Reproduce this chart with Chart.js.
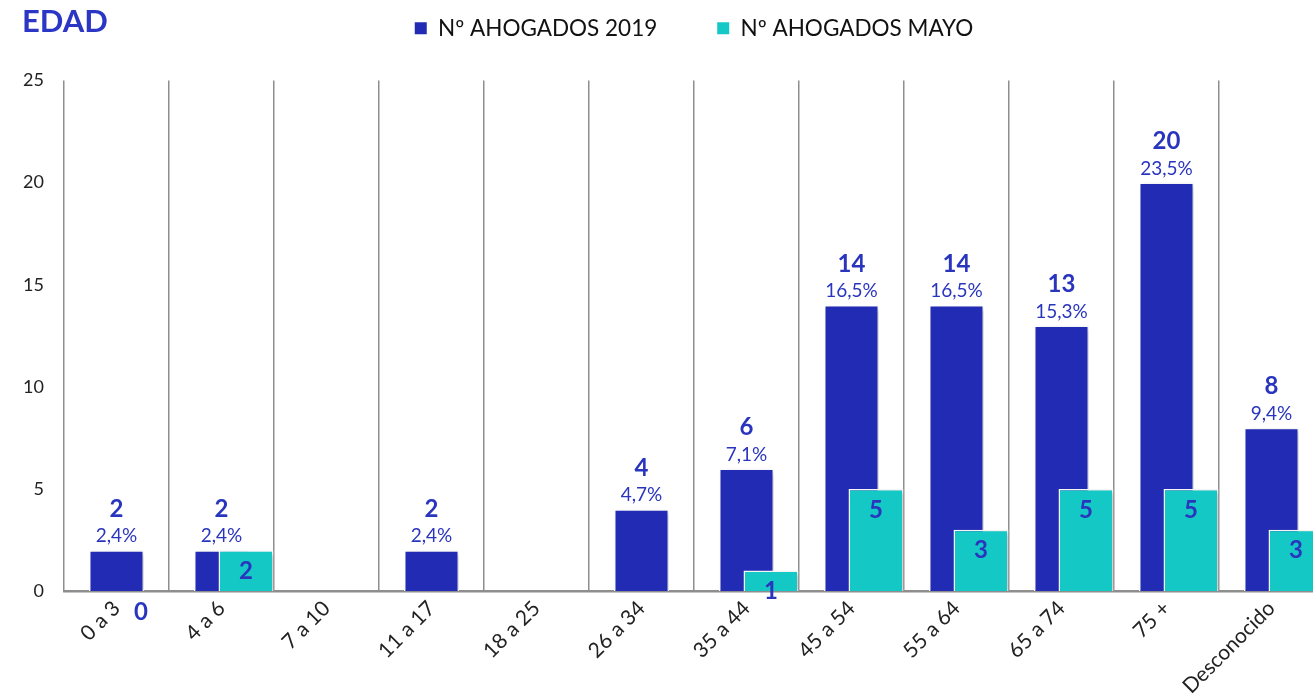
<!DOCTYPE html>
<html>
<head>
<meta charset="utf-8">
<script src="https://cdn.jsdelivr.net/npm/chart.js@4/dist/chart.umd.min.js"></script>
<style>
  html, body { margin: 0; padding: 0; background: #fff; overflow: hidden; }
  #wrap { position: relative; width: 1330px; height: 695px; }
</style>
</head>
<body>
<div id="wrap"><canvas id="myChart"></canvas></div>
<script>
// datos
const ageGroups = ['0 a 3', '4 a 6', '7 a 10', '11 a 17', '18 a 25', '26 a 34', '35 a 44', '45 a 54', '55 a 64', '65 a 74', '75 +', 'Desconocido'];
const drowned2019 = [2, 2, null, 2, null, 4, 6, 14, 14, 13, 20, 8];
const drownedMay = [0, 2, null, null, null, null, 1, 5, 3, 5, 5, 3];
const share2019 = ['2,4%', '2,4%', null, '2,4%', null, '4,7%', '7,1%', '16,5%', '16,5%', '15,3%', '23,5%', '9,4%'];
const yTicks = [0, 5, 10, 15, 20, 25];

const BLUE = '#222BB3';
const CYAN = '#14C8C6';
const LABEL_BLUE = '#2A35BE';
const FONT = 'Lato';

// espacio extra entre la leyenda y el gráfico
const legendGap = {
  id: 'legendGap',
  beforeInit(chart) {
    const fit = chart.legend.fit;
    chart.legend.fit = function () {
      fit.bind(chart.legend)();
      this.height += 31;
    };
  }
};

// sombra suave de las barras
const barShadow = {
  id: 'barShadow',
  beforeDatasetDraw(chart) {
    const c = chart.ctx;
    c.save();
    c.shadowColor = 'rgba(0,0,0,0.25)';
    c.shadowBlur = 5;
    c.shadowOffsetX = 2;
    c.shadowOffsetY = 2;
  },
  afterDatasetDraw(chart) {
    chart.ctx.restore();
  }
};

// etiquetas de valor y título
const valueLabels = {
  id: 'valueLabels',
  afterDatasetsDraw(chart) {
    const c = chart.ctx;
    c.save();
    c.textAlign = 'center';
    c.textBaseline = 'middle';
    c.fillStyle = LABEL_BLUE;

    const blueBars = chart.getDatasetMeta(2).data;
    blueBars.forEach((bar, i) => {
      if (drowned2019[i] == null) return;
      c.font = 'bold 24px ' + FONT;
      c.fillText(String(drowned2019[i]), bar.x, bar.y - 41);
      c.font = '19px ' + FONT;
      c.fillText(share2019[i], bar.x, bar.y - 14);
    });

    const cyanBars = chart.getDatasetMeta(1).data;
    cyanBars.forEach((bar, i) => {
      if (drownedMay[i] == null) return;
      c.font = 'bold 24px ' + FONT;
      c.fillText(String(drownedMay[i]), bar.x, bar.y + 21);
    });

    c.textAlign = 'left';
    c.font = 'bold 31px ' + FONT;
    c.fillStyle = '#2B36C4';
    c.fillText('EDAD', 22, 22);
    c.restore();
  }
};

const ctx = document.getElementById('myChart').getContext('2d');

const myChart = new Chart(ctx, {
  type: 'bar',
  data: {
    labels: ageGroups,
    datasets: [
      {
        // hueco vacío para desplazar la serie de mayo a la derecha
        label: '',
        data: [],
        backgroundColor: 'rgba(0,0,0,0)',
        borderWidth: 0,
        categoryPercentage: 0.9333,
        barPercentage: 1.1224
      },
      {
        label: 'Nº AHOGADOS MAYO',
        data: drownedMay,
        backgroundColor: CYAN,
        borderColor: '#ffffff',
        borderWidth: 1.5,
        categoryPercentage: 0.9333,
        barPercentage: 1.1224
      },
      {
        label: 'Nº AHOGADOS 2019',
        data: drowned2019,
        backgroundColor: BLUE,
        borderColor: '#ffffff',
        borderWidth: 1.5,
        grouped: false,
        categoryPercentage: 1,
        barPercentage: 0.5238
      }
    ]
  },
  options: {
    responsive: true,
    maintainAspectRatio: false,
    animation: false,
    layout: { padding: { top: -43, left: 0, right: 6, bottom: 0 } },
    plugins: {
      tooltip: { enabled: false },
      title: { display: false },
      legend: {
        position: 'top',
        fullSize: false,
        reverse: true,
        labels: {
          boxWidth: 12,
          boxHeight: 12,
          padding: 60,
          color: '#111',
          font: { family: FONT, size: 22.5 },
          filter: item => item.text !== '',
          generateLabels: chart => Chart.defaults.plugins.legend.labels.generateLabels(chart)
            .map(item => Object.assign(item, { lineWidth: 0 }))
        }
      }
    },
    scales: {
      x: {
        offset: true,
        grid: {
          offset: true,
          color: '#8E8E8E',
          lineWidth: 1.5,
          drawTicks: false
        },
        border: { display: true, color: '#8E8E8E', width: 2.5 },
        ticks: {
          color: '#222',
          font: { family: FONT, size: 21 },
          minRotation: 45,
          maxRotation: 45,
          autoSkip: false,
          padding: 5
        },
        afterFit: s => { s.height = 104; }
      },
      y: {
        min: yTicks[0],
        max: yTicks[yTicks.length - 1],
        grid: { display: false, drawTicks: false },
        border: { display: false },
        ticks: {
          stepSize: yTicks[1] - yTicks[0],
          color: '#222',
          font: { family: FONT, size: 18 },
          padding: 20
        },
        afterFit: s => { s.width = 64; }
      }
    }
  },
  plugins: [legendGap, barShadow, valueLabels]
});
</script>
</body>
</html>
